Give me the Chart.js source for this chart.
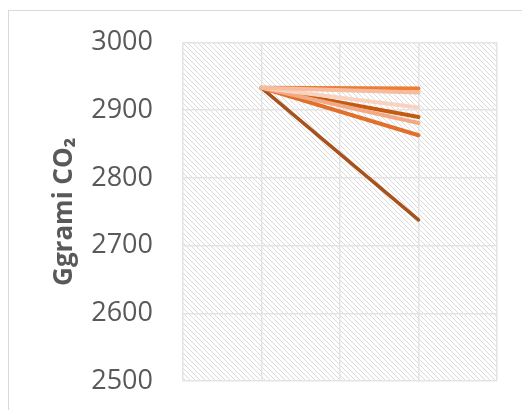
<!DOCTYPE html>
<html>
<head>
<meta charset="utf-8">
<script src="https://cdn.jsdelivr.net/npm/chart.js@4"></script>
<style>
  html, body { margin: 0; padding: 0; background: #ffffff; overflow: hidden; }
  #wrap { position: relative; width: 522px; height: 410px; }
</style>
</head>
<body>
<div id="wrap"><canvas id="c" width="522" height="410"></canvas></div>
<script>
// Emissions (Gg CO2) for each scenario: base-year value and projected value
const scenarioNames = ['S1', 'S2', 'S3', 'S4', 'S5', 'S6', 'S7'];
const baseValues    = [2933, 2933, 2933, 2933, 2933, 2933, 2933];
const projValues    = [2932, 2926, 2904, 2890, 2881, 2863, 2738];
const xPositions    = [1, 3];
const yTicks        = [2500, 2600, 2700, 2800, 2900, 3000];
const lineColors    = ['#ED7D31', '#F5BCA0', '#FAD3C0', '#C55A11', '#F2A986', '#E0702C', '#A9511D'];

const datasets = scenarioNames.map((name, i) => ({
  label: name,
  data: [
    { x: xPositions[0], y: baseValues[i] },
    { x: xPositions[1], y: projValues[i] }
  ],
  borderColor: lineColors[i],
  borderWidth: i === 6 ? 3.5 : 4,
  borderCapStyle: 'round',
  pointRadius: 0,
  fill: false
}));
// draw lighter lines on top of darker ones where they overlap near the origin
const order = [6, 5, 3, 4, 2, 0, 1];
order.forEach((idx, k) => { datasets[idx].order = order.length - k; });

function makeHatch() {
  const t = document.createElement('canvas');
  t.width = 5; t.height = 5;
  const g = t.getContext('2d');
  g.fillStyle = '#ffffff';
  g.fillRect(0, 0, 5, 5);
  g.fillStyle = '#dadada';
  for (let k = 0; k < 5; k++) g.fillRect(k, k, 1, 1);
  return t;
}

const hatchPlugin = {
  id: 'hatchBg',
  beforeDraw(chart) {
    const { ctx, chartArea: a } = chart;
    ctx.save();
    ctx.strokeStyle = '#d9d9d9';
    ctx.lineWidth = 1;
    ctx.strokeRect(8.5, 10.5, 700, 600);
    ctx.fillStyle = ctx.createPattern(makeHatch(), 'repeat');
    ctx.fillRect(a.left, a.top, a.right - a.left, a.bottom - a.top);
    ctx.restore();
  }
};

const LEFT_PAD = 49;
const Y_AXIS_WIDTH = 134;

new Chart(document.getElementById('c'), {
  type: 'line',
  data: { datasets },
  options: {
    responsive: false,
    animation: false,
    layout: { padding: { top: 42.5, right: 25, bottom: 29, left: LEFT_PAD } },
    plugins: { legend: { display: false }, tooltip: { enabled: false } },
    scales: {
      x: {
        type: 'linear',
        min: 0, max: 4,
        ticks: { display: false, stepSize: 1 },
        grid: { color: '#e3e3e3', lineWidth: 1.5, drawTicks: false },
        border: { display: false },
        afterFit(scale) { scale.height = 0; scale.paddingLeft = 0; scale.paddingRight = 0; }
      },
      y: {
        min: 2500, max: 3000,
        afterBuildTicks(scale) { scale.ticks = yTicks.map(v => ({ value: v })); },
        afterFit(scale) {
          scale.width = Y_AXIS_WIDTH;
          scale.paddingTop = 0;
          scale.paddingBottom = 0;
        },
        ticks: {
          color: '#595959',
          font: { family: 'Open Sans', size: 27 },
          padding: 30,
          callback: v => String(v)
        },
        grid: { color: '#e3e3e3', lineWidth: 1.5, drawTicks: false },
        border: { display: false },
        title: {
          display: true,
          text: 'Ggrami CO₂',
          color: '#595959',
          font: { family: 'Open Sans', size: 26, weight: 'bold' },
          padding: { top: 0, bottom: 0 }
        }
      }
    }
  },
  plugins: [hatchPlugin]
});
</script>
</body>
</html>
